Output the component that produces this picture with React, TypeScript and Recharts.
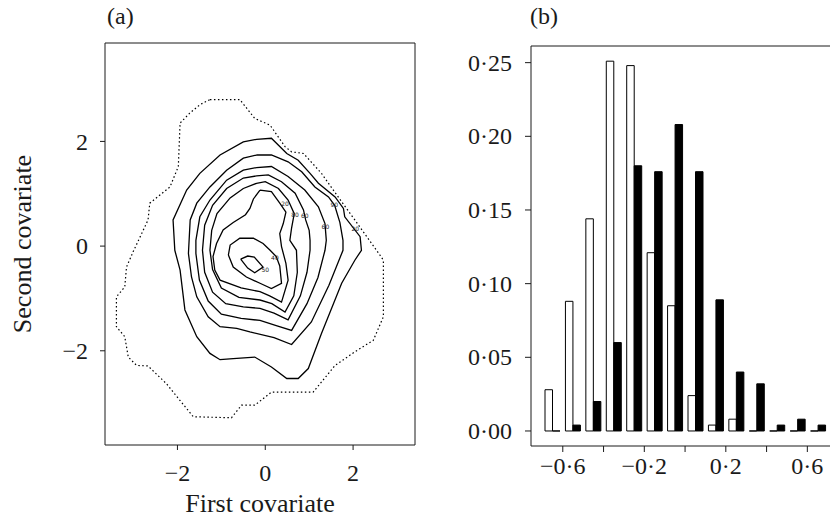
import React from 'react';
import {
  ComposedChart, Line, Bar, XAxis, YAxis, ReferenceArea, ReferenceDot, Label,
} from 'recharts';

const SERIF = '"Liberation Serif", "DejaVu Serif", serif';
const INK = '#1a1a1a';

// ---- panel (a): density contours, [first covariate, second covariate]
const contourOuter: [number, number][] = [
  [-1.26, 2.8], [-0.58, 2.8], [-0.24, 2.44], [0.11, 2.31], [0.45, 1.9], [0.6, 1.8], [0.87, 1.77],
  [1.28, 1.39], [1.66, 0.94], [2.04, 0.5], [2.61, -0.17], [2.69, -0.27], [2.69, -1.35], [2.46, -1.8],
  [2.04, -2.02], [1.59, -2.28], [1.09, -2.79], [0.14, -2.79], [-0.24, -3.04], [-0.54, -3.04],
  [-0.77, -3.28], [-1.64, -3.26], [-2.25, -2.63], [-2.67, -2.29], [-2.93, -2.28], [-3.12, -2.12],
  [-3.2, -1.73], [-3.39, -1.54], [-3.39, -0.97], [-3.2, -0.78], [-3.16, -0.4], [-3.01, -0.11],
  [-2.67, 0.5], [-2.63, 0.82], [-2.17, 1.13], [-1.98, 1.52], [-1.94, 2.35], [-1.72, 2.54],
  [-1.49, 2.7], [-1.26, 2.8],
];
const contour1: [number, number][] = [
  [-0.2, 2.04], [0.14, 2.06], [0.49, 1.77], [0.75, 1.64], [1.02, 1.39], [1.21, 1.2], [1.59, 0.94],
  [1.78, 0.72], [1.81, 0.56], [2.16, 0.18], [2.19, -0.08], [2.04, -0.27], [1.74, -0.71], [1.28, -1.67],
  [0.98, -2.34], [0.75, -2.53], [0.49, -2.53], [0.14, -2.31], [-0.24, -2.12], [-0.73, -2.15],
  [-1.03, -2.17], [-1.26, -2.05], [-1.56, -1.73], [-1.83, -1.22], [-1.94, -0.46], [-2.06, -0.08],
  [-2.1, 0.5], [-1.79, 1.07], [-1.49, 1.39], [-1.03, 1.74], [-0.5, 1.99], [-0.2, 2.04],
];
const contour2: [number, number][] = [
  [-0.2, 1.74], [0.14, 1.74], [0.52, 1.61], [0.83, 1.42], [1.13, 1.13], [1.44, 0.94], [1.58, 0.78],
  [1.7, 0.45], [1.77, 0.11], [1.77, -0.08], [1.45, -0.75], [1.05, -1.45], [0.6, -1.88], [0.2, -1.75],
  [-0.35, -1.64], [-0.65, -1.57], [-1.03, -1.54], [-1.3, -1.35], [-1.56, -0.97], [-1.68, -0.59],
  [-1.75, -0.14], [-1.71, 0.5], [-1.56, 0.82], [-1.26, 1.13], [-0.88, 1.45], [-0.5, 1.68], [-0.2, 1.74],
];
const contour3: [number, number][] = [
  [-0.2, 1.5], [0.14, 1.52], [0.52, 1.33], [0.9, 1.07], [1.21, 0.75], [1.36, 0.43], [1.39, 0.11],
  [1.36, -0.08], [1.2, -0.6], [0.95, -1.1], [0.6, -1.61], [0.25, -1.52], [-0.12, -1.42], [-0.55, -1.38],
  [-1.0, -1.3], [-1.3, -1.05], [-1.5, -0.65], [-1.58, -0.14], [-1.58, 0.11], [-1.49, 0.56],
  [-1.26, 0.88], [-0.88, 1.26], [-0.5, 1.45], [-0.2, 1.5],
];
const contour4: [number, number][] = [
  [-0.2, 1.34], [0.07, 1.36], [0.37, 1.23], [0.68, 1.01], [0.87, 0.69], [0.92, 0.5], [1.0, 0.3],
  [1.02, 0.11], [1.02, -0.08], [0.95, -0.5], [0.8, -0.95], [0.52, -1.41], [0.2, -1.28], [-0.12, -1.19],
  [-0.5, -1.16], [-0.9, -1.1], [-1.2, -0.88], [-1.38, -0.5], [-1.43, -0.08], [-1.38, 0.4],
  [-1.2, 0.78], [-0.88, 1.1], [-0.5, 1.3], [-0.2, 1.34],
];
const contour5: [number, number][] = [
  [-0.2, 1.2], [0.0, 1.23], [0.3, 1.1], [0.52, 0.88], [0.66, 0.62], [0.6, 0.35], [0.56, 0.11],
  [0.71, -0.08], [0.73, -0.5], [0.65, -0.95], [0.45, -1.26], [0.15, -1.1], [-0.12, -1.03],
  [-0.6, -0.98], [-1.0, -0.8], [-1.2, -0.45], [-1.26, -0.08], [-1.22, 0.3], [-1.1, 0.62],
  [-0.8, 0.92], [-0.5, 1.1], [-0.2, 1.2],
];
const contour6: [number, number][] = [
  [-0.12, 1.07], [0.14, 1.04], [0.33, 0.82], [0.47, 0.65], [0.41, 0.43], [0.33, 0.24], [0.37, -0.01],
  [0.47, -0.33], [0.52, -0.65], [0.37, -1.07], [0.1, -0.95], [-0.12, -0.87], [-0.55, -0.8],
  [-1.03, -0.65], [-1.15, -0.46], [-1.19, -0.2], [-1.11, 0.05], [-0.96, 0.31], [-0.73, 0.45],
  [-0.45, 0.6], [-0.35, 0.72], [-0.27, 0.9], [-0.12, 1.07],
];
const contour7: [number, number][] = [
  [-0.84, -0.17], [-0.8, 0.02], [-0.58, 0.15], [-0.27, 0.15], [-0.05, 0.05], [0.11, -0.08],
  [0.25, -0.2], [0.33, -0.38], [0.37, -0.71], [0.14, -0.81], [-0.12, -0.71], [-0.43, -0.59],
  [-0.73, -0.4], [-0.84, -0.17],
];
const contour8: [number, number][] = [
  [-0.56, -0.25], [-0.4, -0.19], [-0.25, -0.21], [-0.05, -0.4], [-0.24, -0.51], [-0.4, -0.42], [-0.56, -0.25],
];
const solidContours = [contour1, contour2, contour3, contour4, contour5, contour6, contour7, contour8];

const contourLabels = ['20', '80', '60', '60', '90', '20', '40', '50'];
const contourLabelX = [0.45, 0.68, 0.9, 1.37, 1.57, 2.05, 0.22, 0.0];
const contourLabelY = [0.8, 0.59, 0.57, 0.37, 0.78, 0.32, -0.22, -0.45];

const aTicksX = [-2, 0, 2];
const aTicksY = [-2, 0, 2];

// ---- panel (b): histogram
const binMid = [-0.65, -0.55, -0.45, -0.35, -0.25, -0.15, -0.05, 0.05, 0.15, 0.25, 0.35, 0.45, 0.55, 0.65];
const whiteFreq = [0.028, 0.088, 0.144, 0.251, 0.248, 0.121, 0.085, 0.024, 0.004, 0.008, 0, 0, 0, 0];
const blackFreq = [0, 0.004, 0.02, 0.06, 0.18, 0.176, 0.208, 0.176, 0.089, 0.04, 0.032, 0.004, 0.008, 0.004];
const bTicksY = [0, 0.05, 0.1, 0.15, 0.2, 0.25];
const bTicksX = [-0.6, -0.4, -0.2, 0, 0.2, 0.4, 0.6];
const bTickLabelsX = ['\u22120\u00b76', '', '\u22120\u00b72', '', '0\u00b72', '', '0\u00b76'];

const histData = binMid.map((m, i) => ({ bin: String(m), mid: m, white: whiteFreq[i], black: blackFreq[i] }));
const toPts = (arr: [number, number][]) => arr.map(([x, y]) => ({ x, y }));

const minus = (v: number) => (v < 0 ? '\u2212' + Math.abs(v) : String(v));
const dotDec = (v: number) => v.toFixed(2).replace('.', '\u00b7');

// serif tick text; Recharts drops font props from plain tick objects
const makeTick = (fmt: (v: number) => string, side: 'left' | 'bottom') => (props: any) => {
  const { x, y, payload } = props;
  const label = fmt(payload.value);
  if (!label) return <g />;
  return (
    <text
      x={x} y={y}
      dy={side === 'left' ? '0.34em' : '0.71em'}
      textAnchor={side === 'left' ? 'end' : 'middle'}
      fontFamily={SERIF} fontSize={24} fill={INK}
    >
      {label}
    </text>
  );
};

function BarShape(props: any) {
  const { x, y, width, height, fill } = props;
  const h = height || 0;
  return (
    <path
      d={`M${x},${y + h}V${y}H${x + width}V${y + h}Z`}
      fill={fill}
      stroke="#000"
      strokeWidth={1}
    />
  );
}

function PanelA() {
  return (
    <ComposedChart width={420} height={523} margin={{ top: 43, right: 5, bottom: 48, left: 25 }}>
      <XAxis
        type="number" dataKey="x" domain={[-3.65, 3.41]} allowDataOverflow ticks={aTicksX}
        axisLine={false} tickSize={5} tickMargin={14}
        tick={makeTick(minus, 'bottom')} tickLine={{ stroke: INK }} height={30}
      >
        <Label
          content={(p: any) => (
            <text x={p.viewBox.x + p.viewBox.width / 2} y={p.viewBox.y + 67} textAnchor="middle"
              fontFamily={SERIF} fontSize={26} fill={INK}>First covariate</text>
          )}
        />
      </XAxis>
      <YAxis
        type="number" domain={[-3.8, 3.88]} allowDataOverflow ticks={aTicksY}
        axisLine={false} tickSize={5} tickMargin={12}
        tick={makeTick(minus, 'left')} tickLine={{ stroke: INK }} width={80}
      >
        <Label
          content={(p: any) => {
            const cx = p.viewBox.x + 6;
            const cy = p.viewBox.y + p.viewBox.height / 2;
            return (
              <text x={cx} y={cy} transform={`rotate(-90 ${cx} ${cy})`} textAnchor="middle"
                fontFamily={SERIF} fontSize={26} fill={INK}>Second covariate</text>
            );
          }}
        />
      </YAxis>
      <ReferenceArea x1={-3.65} x2={3.41} y1={-3.8} y2={3.88} fill="none" stroke={INK} strokeWidth={1} ifOverflow="visible" />
      <Line data={toPts(contourOuter)} dataKey="y" type="linear" dot={false} stroke="#000"
        strokeWidth={1.2} strokeDasharray="1.5 2.5" isAnimationActive={false} />
      {solidContours.map((c, i) => (
        <Line key={i} data={toPts(c)} dataKey="y" type="linear" dot={false} stroke="#000"
          strokeWidth={1.3} isAnimationActive={false} />
      ))}
      {contourLabels.map((t, i) => (
        <ReferenceDot key={'l' + i} x={contourLabelX[i]} y={contourLabelY[i]} r={0}
          label={{
            value: t, position: 'center',
            content: (p: any) => (
              <text x={p.viewBox.x} y={p.viewBox.y} dy="0.35em" textAnchor="middle"
                fontFamily="DejaVu Sans" fontSize={6} fill="#222">{t}</text>
            ),
          }} />
      ))}
    </ComposedChart>
  );
}

function PanelB() {
  return (
    <ComposedChart width={420} height={523} data={histData} barGap={0}
      margin={{ top: 46, right: 3, bottom: 47, left: 56 }}>
      <XAxis xAxisId="cat" dataKey="bin" type="category" hide height={0} padding={{ left: 11, right: 4 }} />
      <XAxis
        xAxisId="num" dataKey="mid" type="number" domain={[-0.756, 0.721]} allowDataOverflow
        ticks={bTicksX} tick={makeTick((v) => bTickLabelsX[bTicksX.indexOf(v)] || '', 'bottom')}
        axisLine={false} tickSize={6} tickMargin={5} tickLine={{ stroke: INK }} height={30}
      />
      <YAxis
        type="number" domain={[-0.0102, 0.2613]} allowDataOverflow ticks={bTicksY}
        tick={makeTick(dotDec, 'left')}
        axisLine={false} tickSize={6} tickMargin={13} tickLine={{ stroke: INK }} width={60}
      />
      <ReferenceArea xAxisId="num" x1={-0.756} x2={0.721} y1={-0.0102} y2={0.2613}
        fill="none" stroke={INK} strokeWidth={1} ifOverflow="visible" />
      <Bar xAxisId="cat" dataKey="white" fill="#fff" barSize={7.5} shape={BarShape} isAnimationActive={false} />
      <Bar xAxisId="cat" dataKey="black" fill="#000" barSize={7.5} shape={BarShape} isAnimationActive={false} />
    </ComposedChart>
  );
}

export default function App() {
  return (
    <div style={{ position: 'absolute', left: 0, top: 0, width: 830, height: 523, overflow: 'hidden', background: '#fff' }}>
      <div style={{ position: 'absolute', left: 107, top: 3, fontFamily: SERIF, fontSize: 24, color: INK }}>(a)</div>
      <div style={{ position: 'absolute', left: 530, top: 3, fontFamily: SERIF, fontSize: 24, color: INK }}>(b)</div>
      <div style={{ position: 'absolute', left: 0, top: 0 }}>
        <PanelA />
      </div>
      <div style={{ position: 'absolute', left: 415, top: 0 }}>
        <PanelB />
      </div>
    </div>
  );
}
